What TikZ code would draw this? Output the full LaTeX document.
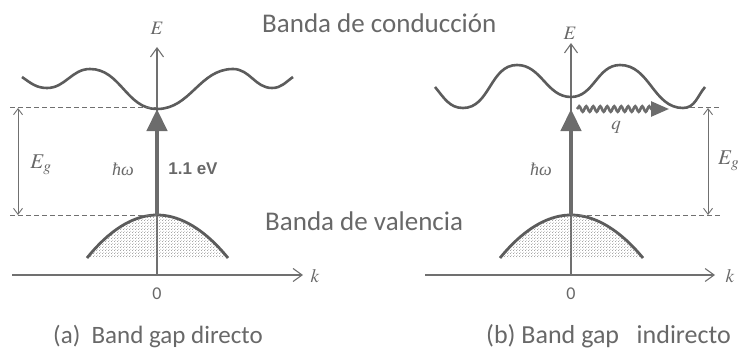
\documentclass[tikz,border=0pt]{standalone}
\usepackage{mathptmx}
\usepackage{fontspec}
\setmainfont{Carlito}
\newfontfamily\arialfont{Liberation Sans}
\newfontfamily\tmsfont{Liberation Serif}
\usepackage{tikz}
\usetikzlibrary{arrows.meta,patterns,decorations.pathmorphing}
\definecolor{ink}{HTML}{5C5C5C}
\definecolor{axisgray}{HTML}{707070}
\definecolor{txtgray}{HTML}{686868}
\pgfdeclarepatternformonly{bandots}{\pgfpointorigin}{\pgfqpoint{3pt}{3pt}}{\pgfqpoint{3pt}{3pt}}{%
  \pgfpathcircle{\pgfqpoint{0.75pt}{0.75pt}}{0.55pt}%
  \pgfpathcircle{\pgfqpoint{2.25pt}{2.25pt}}{0.55pt}%
  \pgfusepath{fill}}

\begin{document}
\begin{tikzpicture}[x=1pt,y=1pt,
  axis/.style={draw=axisgray,line width=1.1pt,-{Straight Barb[length=9pt,width=13pt]}},
  band/.style={draw=ink,line width=2.6pt},
  vband/.style={draw=ink,line width=2.8pt},
  dots/.style={pattern=bandots,pattern color=ink!75},
  gapline/.style={draw=axisgray,line width=1pt,dash pattern=on 5pt off 3pt},
  gaparrow/.style={draw=axisgray,line width=0.9pt,{Straight Barb[length=6pt,width=9pt]}-{Straight Barb[length=6pt,width=9pt]}},
  photon/.style={draw=ink!90,line width=4.5pt,-{Triangle[length=22pt,width=20pt]}},
  phonon/.style={draw=ink!90,line width=2.6pt,decorate,decoration={snake,amplitude=2.8pt,segment length=7pt,post length=17pt},-{Triangle[length=18pt,width=15pt]}},
  title/.style={text=txtgray,inner sep=0pt,font=\fontsize{27}{32}\selectfont},
  caption/.style={text=txtgray,inner sep=0pt,font=\fontsize{25}{30}\selectfont},
  lbl/.style={text=txtgray,inner sep=0pt,font=\fontsize{19}{22}\selectfont},
  hw/.style={text=txtgray,inner sep=0pt,font=\fontsize{18}{20}\selectfont\tmsfont\itshape}]
\useasboundingbox (0,0) rectangle (738,-350);

% (a) direct gap
\coordinate (Oa) at (157,-275);
\coordinate (Ca) at (157,-109);
\coordinate (Va) at (157,-215);
\draw[axis] (12,-275) -- (303,-275);
\draw[axis] (Oa) -- (157,-47);
\fill[dots] (87,-258) parabola bend (Va) (228,-258) -- cycle;
\draw[vband] (87,-258) parabola bend (Va) (228,-258);
\draw[band] (22,-77) to[out=-35,in=180] (47,-88) to[out=0,in=180] (90,-69)
  to[out=0,in=180] (Ca) to[out=0,in=180] (233,-69) to[out=0,in=180] (272,-88)
  to[out=0,in=215] (293,-77);
\coordinate (gta) at (10,-108);
\coordinate (gba) at (10,-215);
\draw[gapline] (gta) -- (157,-108);
\draw[gapline] (gba) -- (Va);
\draw[gaparrow] (18,-108) -- (18,-215);
\draw[photon] (Va) -- (Ca);
\node[lbl] (Ea) at (157,-28) {$E$};
\node[lbl] (ka) at (315,-276) {$k$};
\node[lbl,font=\fontsize{18}{20}\selectfont] (za) at (157,-294) {0};
\node[lbl,font=\fontsize{21}{24}\selectfont] (Ega) at (41,-165) {$E_g$};
\node[hw] (hwa) at (123,-169) {ħω};
\node[lbl,font=\fontsize{17}{20}\selectfont\arialfont\bfseries] (eva) at (193,-169) {1.1 eV};

% (b) indirect gap
\coordinate (Ob) at (571,-275);
\coordinate (Cb) at (571,-97);
\coordinate (Vb) at (571,-215);
\coordinate (Tb) at (571,-109);
\draw[axis] (425,-275) -- (715,-275);
\draw[axis] (Ob) -- (571,-43);
\fill[dots] (500,-258) parabola bend (Vb) (643,-258) -- cycle;
\draw[vband] (500,-258) parabola bend (Vb) (643,-258);
\draw[band] (435,-87) to[out=-50,in=180] (463,-108) to[out=0,in=180] (517,-65)
  to[out=0,in=180] (Cb) to[out=0,in=180] (620,-65) to[out=0,in=180] (683,-108)
  to[out=0,in=230] (705,-87);
\coordinate (gtb) at (720,-108);
\coordinate (gbb) at (720,-215);
\draw[gapline] (690,-108) -- (gtb);
\draw[gapline] (Vb) -- (gbb);
\draw[gaparrow] (708,-108) -- (708,-215);
\draw[photon] (Vb) -- (Tb);
\coordinate (qs) at (577,-109);
\coordinate (qe) at (669,-109);
\draw[phonon] (qs) -- (qe);
\node[lbl] (Eb) at (570,-33) {$E$};
\node[lbl] (kb) at (730,-276) {$k$};
\node[lbl,font=\fontsize{18}{20}\selectfont] (zb) at (571,-294) {0};
\node[lbl,font=\fontsize{21}{24}\selectfont,anchor=west] (Egb) at (718,-161) {$E_g$};
\node[lbl] (q) at (616,-127) {$q$};
\node[hw] (hwb) at (541,-169) {ħω};

% band names and captions
\node[title,anchor=base west] (cond) at (262,-33) {Banda de conducción};
\node[title,anchor=base west] (val) at (265,-230) {Banda de valencia};
\node[caption,anchor=base west] (capa) at (53,-343) {(a)\ \ Band gap directo};
\node[caption,anchor=base west,font=\fontsize{26}{30}\selectfont] (capb) at (486,-343) {(b) Band gap\ \ \ indirecto};
\end{tikzpicture}
\end{document}
